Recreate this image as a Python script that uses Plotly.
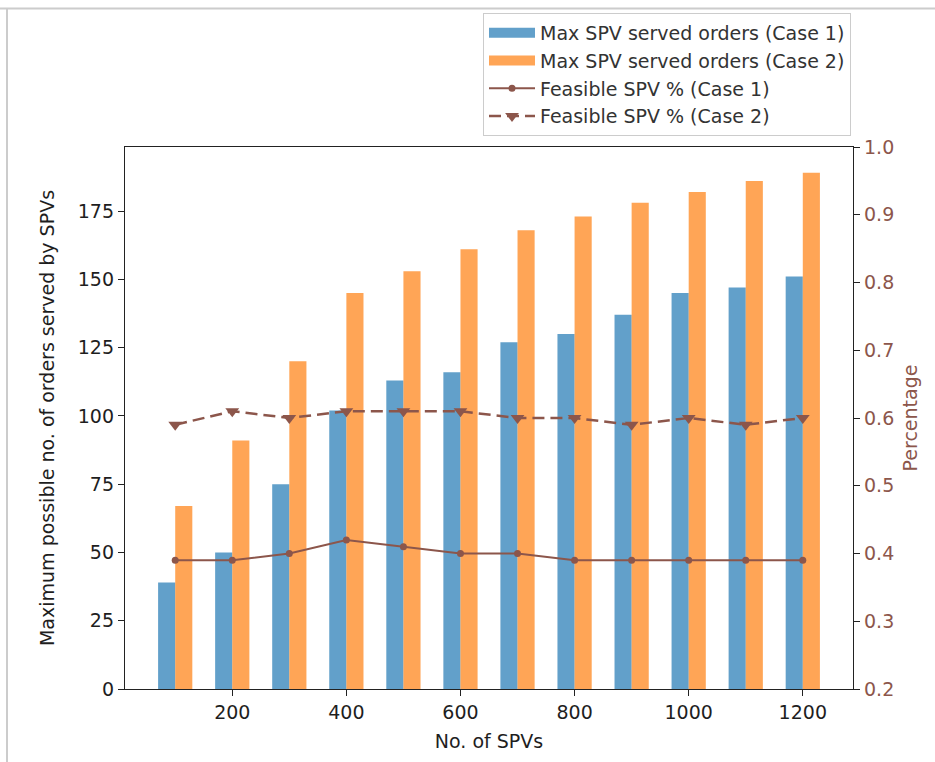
import plotly.graph_objects as go

spvs = [100, 200, 300, 400, 500, 600, 700, 800, 900, 1000, 1100, 1200]
served_case1 = [39, 50, 75, 102, 113, 116, 127, 130, 137, 145, 147, 151]
served_case2 = [67, 91, 120, 145, 153, 161, 168, 173, 178, 182, 186, 189]
feasible_case1 = [0.39, 0.39, 0.40, 0.42, 0.41, 0.40, 0.40, 0.39, 0.39, 0.39, 0.39, 0.39]
feasible_case2 = [0.59, 0.61, 0.60, 0.61, 0.61, 0.61, 0.60, 0.60, 0.59, 0.60, 0.59, 0.60]
left_ticks = [0, 25, 50, 75, 100, 125, 150, 175]
right_ticks = [0.2, 0.3, 0.4, 0.5, 0.6, 0.7, 0.8, 0.9, 1.0]
x_ticks = [200, 400, 600, 800, 1000, 1200]

BAR_W = 30
BROWN = "#8c564b"
BLUE_A = "rgba(31,119,180,0.7)"
ORANGE_A = "rgba(255,127,14,0.7)"
TXT = "#1e1e1e"
FONT = "DejaVu Sans"
FS = 19

fig = go.Figure()
fig.add_trace(go.Bar(x=spvs, y=served_case1, width=BAR_W, offset=-BAR_W,
                     name="Max SPV served orders (Case 1)", showlegend=False,
                     marker=dict(color=BLUE_A, line=dict(width=0))))
fig.add_trace(go.Bar(x=spvs, y=served_case2, width=BAR_W, offset=0,
                     name="Max SPV served orders (Case 2)", showlegend=False,
                     marker=dict(color=ORANGE_A, line=dict(width=0))))
# legend-only entries drawn as wide patches like matplotlib's bar handles
fig.add_trace(go.Scatter(x=[None], y=[None], mode="lines",
                         name="Max SPV served orders (Case 1)",
                         line=dict(color=BLUE_A, width=13)))
fig.add_trace(go.Scatter(x=[None], y=[None], mode="lines",
                         name="Max SPV served orders (Case 2)",
                         line=dict(color=ORANGE_A, width=13)))
fig.add_trace(go.Scatter(x=spvs, y=feasible_case1, yaxis="y2", mode="lines+markers",
                         name="Feasible SPV % (Case 1)",
                         line=dict(color=BROWN, width=2),
                         marker=dict(symbol="circle", size=7, color=BROWN)))
fig.add_trace(go.Scatter(x=spvs, y=feasible_case2, yaxis="y2", mode="lines+markers",
                         name="Feasible SPV % (Case 2)",
                         line=dict(color=BROWN, width=2.5, dash="12px,6px"),
                         marker=dict(symbol="triangle-down", size=12, color=BROWN)))

L, R, T, B = 125, 82, 147, 73
W, H = 935, 762
pw, ph = W - L - R, H - T - B

def px_x(p):
    return (p - L) / pw

def px_y(p):
    return (H - B - p) / ph

axis_common = dict(showline=True, linecolor="#222", linewidth=1.4, ticks="outside",
                   ticklen=6, tickwidth=1.4, tickcolor="#222", showgrid=False,
                   zeroline=False)

fig.update_layout(
    width=W, height=H,
    margin=dict(l=L, r=R, t=T, b=B, pad=0),
    paper_bgcolor="white", plot_bgcolor="white",
    font=dict(family=FONT, size=FS, color=TXT),
    barmode="overlay",
    showlegend=True,
    legend=dict(x=px_x(483), y=px_y(13), xanchor="left", yanchor="top",
                bordercolor="#cccccc", borderwidth=1, bgcolor="white",
                font=dict(size=FS, color="#333333"), itemwidth=46, traceorder="normal",
                tracegroupgap=0),
    xaxis=dict(range=[12, 1288], tickvals=x_ticks, mirror=True,
               title=dict(text="No. of SPVs", standoff=12, font=dict(size=FS)),
               **axis_common),
    yaxis=dict(range=[0, 198.45], tickvals=left_ticks,
               title=dict(text="Maximum possible no. of orders served by SPVs",
                          standoff=18, font=dict(size=FS)),
               **axis_common),
    yaxis2=dict(overlaying="y", side="right", range=[0.2, 1.0], tickvals=right_ticks,
                tickformat=".1f", tickfont=dict(color=BROWN),
                title=dict(text="Percentage", standoff=10, font=dict(size=FS, color=BROWN)),
                **axis_common),
    shapes=[
        dict(type="line", xref="paper", yref="paper", x0=px_x(0), x1=px_x(935),
             y0=px_y(8.5), y1=px_y(8.5), line=dict(color="#cccccc", width=2)),
        dict(type="line", xref="paper", yref="paper", x0=px_x(7), x1=px_x(7),
             y0=px_y(8.5), y1=px_y(762), line=dict(color="#cccccc", width=2)),
    ],
)

fig.write_html("out.html")
